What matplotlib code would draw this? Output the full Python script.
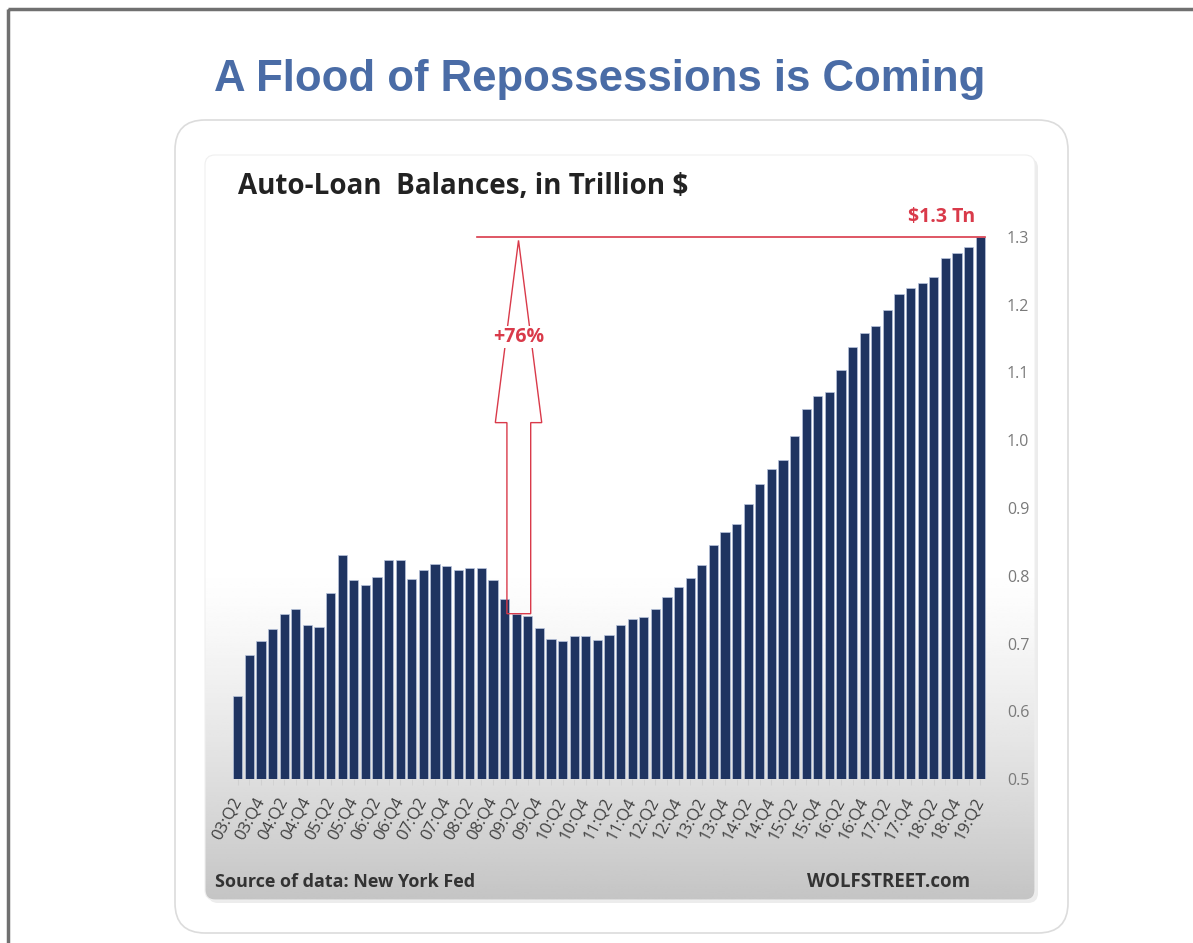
import numpy as np
import matplotlib.pyplot as plt
from matplotlib.patches import FancyBboxPatch, Rectangle, Polygon

W, H = 1193, 943

# auto-loan balances, trillion $, 03:Q2 .. 19:Q2
values = [
    0.623, 0.683, 0.703, 0.721, 0.743, 0.751, 0.728, 0.725, 0.774, 0.830,
    0.793, 0.787, 0.798, 0.823, 0.823, 0.795, 0.808, 0.818, 0.815, 0.808,
    0.811, 0.811, 0.793, 0.765, 0.744, 0.740, 0.723, 0.706, 0.703, 0.711,
    0.711, 0.705, 0.713, 0.727, 0.736, 0.739, 0.751, 0.768, 0.783, 0.797,
    0.816, 0.846, 0.865, 0.876, 0.906, 0.936, 0.958, 0.971, 1.006, 1.046,
    1.065, 1.071, 1.104, 1.137, 1.159, 1.168, 1.192, 1.216, 1.225, 1.232,
    1.241, 1.269, 1.276, 1.285, 1.300,
]
quarters = [f"{y:02d}:Q{q}" for y in range(3, 20) for q in (1, 2, 3, 4)][1:66]
tick_labels = quarters[::2]
yticks = [0.5, 0.6, 0.7, 0.8, 0.9, 1.0, 1.1, 1.2, 1.3]

low_i = quarters.index("09:Q2")
low = values[low_i]
high = values[-1]

red = '#d93a4a'
navy = '#1f3461'
font = ['Open Sans', 'DejaVu Sans']

fig = plt.figure(figsize=(W / 100, H / 100), dpi=100)

# background layer in pixel coords
bg = fig.add_axes([0, 0, 1, 1])
bg.set_xlim(0, W)
bg.set_ylim(H, 0)
bg.axis('off')

bg.add_patch(Rectangle((8, 9), W, H, fill=False, edgecolor='#707070', lw=2.5))
bg.text(600, 79, 'A Flood of Repossessions is Coming', ha='center', va='center',
        fontsize=31.5, fontweight='bold', color='#4a6ca6', family='Liberation Sans')

bg.add_patch(FancyBboxPatch((175, 120), 893, 813, boxstyle='round,pad=0,rounding_size=30',
                            fc='white', ec='#dcdcdc', lw=1.2, zorder=0.2))

# chart card with grey gradient at the bottom
bg.add_patch(FancyBboxPatch((208, 158), 830, 745, boxstyle='round,pad=0,rounding_size=10',
                            fc='#ececec', ec='none', zorder=0.5))
card = FancyBboxPatch((205, 155), 830, 745, boxstyle='round,pad=0,rounding_size=10',
                      fc='none', ec='#efefef', lw=0.8, zorder=2)
bg.add_patch(card)
t = np.linspace(0, 1, 300)
shade = 1 - 0.23 * np.clip((t - 0.55) / 0.45, 0, 1) ** 1.3
img = np.repeat(shade[:, None], 2, axis=1)
im = bg.imshow(img, cmap='gray', vmin=0, vmax=1, extent=(205, 1035, 900, 155),
               aspect='auto', interpolation='bilinear', zorder=1)
im.set_clip_path(card)
bg.set_xlim(0, W)
bg.set_ylim(H, 0)

bg.text(238, 187, 'Auto-Loan  Balances, in Trillion $', va='center', fontsize=20,
        fontweight='bold', color='#222222', family=font)
bg.text(215, 882, 'Source of data: New York Fed', va='center', fontsize=13,
        fontweight='bold', color='#333333', family=font)
bg.text(970, 882, 'WOLFSTREET.com', va='center', ha='right', fontsize=13.5,
        fontweight='bold', color='#333333', family=font)

# bar chart
ax = fig.add_axes([232 / W, 1 - 779 / H, (986 - 232) / W, (779 - 237) / H])
ax.set_facecolor('none')
x = np.arange(len(values))
ax.bar(x, values, width=0.78, color=navy, edgecolor='#b8c4dc', linewidth=0.5)
ax.set_xlim(-0.5, len(values) - 0.5)
ax.set_ylim(0.5, 1.3)
for s in ax.spines.values():
    s.set_visible(False)

ax.yaxis.tick_right()
ax.set_yticks(yticks)
ax.set_yticklabels([f"{v:.1f}" for v in yticks], family=font)
ax.tick_params(axis='y', length=0, pad=15, labelsize=11.5, labelcolor='#7a7a7a')

ax.set_xticks(x[::2])
ax.set_xticks(x[1::2], minor=True)
ax.set_xticklabels(tick_labels, rotation=62, ha='right', va='center',
                   rotation_mode='anchor', family=font)
ax.tick_params(axis='x', which='both', length=4, color='#d0d0d0', pad=10,
               labelsize=12, labelcolor='#404040')

# annotations
ax.plot([20.6, 64.4], [high, high], color=red, lw=1.2, clip_on=False)
cx = low_i + 0.2
arrow = [(cx - 1.0, low), (cx + 1.05, low), (cx + 1.05, 1.026), (cx + 2.0, 1.026),
         (cx, high - 0.005), (cx - 2.0, 1.026), (cx - 1.0, 1.026)]
ax.add_patch(Polygon(arrow, closed=True, fill=False, edgecolor=red, lw=1.0, clip_on=False))
ax.text(cx, 1.152, "+76%", ha='center', va='center', fontsize=14,
        fontweight='bold', color=red, family=font,
        bbox=dict(fc='white', ec='none', pad=0.5))
ax.text(63.6, 1.33, f"${high:.1f} Tn", ha='right', va='center', fontsize=14,
        fontweight='bold', color=red, family=font)

fig.savefig('out.png', dpi=100)
